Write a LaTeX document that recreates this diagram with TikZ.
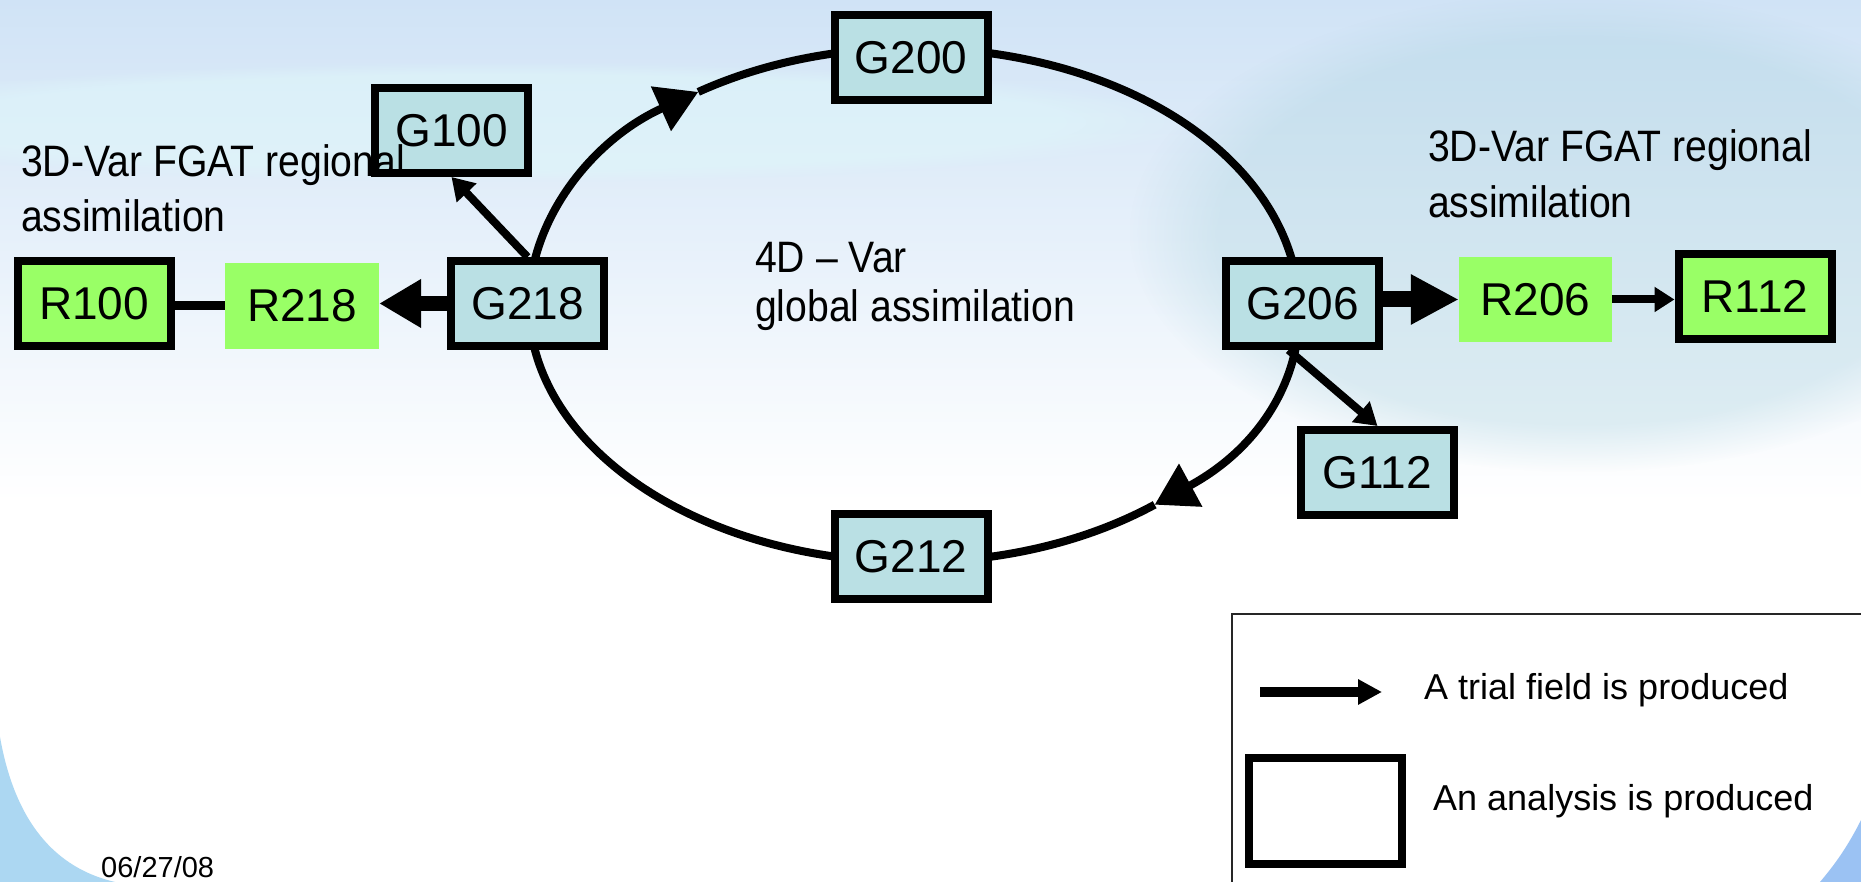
\documentclass[tikz,border=0pt]{standalone}
\usepackage{fontspec}
\setmainfont{Liberation Sans}
\newfontfamily\condfont[FakeStretch=0.89]{Liberation Sans}
\usetikzlibrary{arrows.meta,fadings}
\definecolor{gfill}{RGB}{186,224,228}
\definecolor{rfill}{RGB}{153,255,102}
\definecolor{bgtop}{RGB}{208,227,246}
\definecolor{bgteal}{RGB}{170,210,222}
\definecolor{bgcyan}{RGB}{222,246,250}
\definecolor{swoosh}{RGB}{172,215,242}
\newcommand\bxfont{\fontsize{46}{50}\selectfont}
\newcommand\lblfont{\condfont\fontsize{44}{50}\selectfont}
\newcommand\lgfont{\fontsize{36}{40}\selectfont}
\begin{document}
\begin{tikzpicture}[x=1pt,y=1pt,
  gbox/.style={draw=black, line width=8pt, fill=gfill, minimum width=153pt, minimum height=85pt, inner sep=0pt, font=\bxfont},
  rbox/.style={fill=rfill, minimum width=154pt, minimum height=86pt, inner sep=0pt, font=\bxfont},
  rabox/.style={rbox, draw=black, line width=8pt, minimum width=153pt, minimum height=85pt},
  lbl/.style={anchor=base west, inner sep=0pt, font=\lblfont},
  lgtext/.style={anchor=base west, inner sep=0pt, font=\lgfont},
  ring/.style={line width=8pt},
  ringtip/.style={line width=8pt, -{Triangle[length=41pt,width=47pt]}},
  thinarrow/.style={line width=8pt, -{Triangle[length=22pt,width=26pt]}},
  thickarrow/.style={line width=15pt, -{Triangle[length=42pt,width=46pt]}},
  plainline/.style={line width=9pt}
]
\useasboundingbox (0,0) rectangle (1861,882);
% ---------- background ----------
\begin{scope}
\clip (0,0) rectangle (1861,882);
\fill[white] (0,0) rectangle (1861,882);
\shade[top color=bgtop, bottom color=white] (0,380) rectangle (1861,882);
\fill[bgcyan, opacity=0.6, path fading=circle with fuzzy edge 20 percent] (500,760) ellipse [x radius=700, y radius=60];
\fill[bgteal, opacity=0.35, path fading=circle with fuzzy edge 20 percent] (1580,650) ellipse [x radius=450, y radius=240];
\fill[swoosh] (0,145) .. controls (15,60) and (55,14) .. (115,0) -- (0,0) -- cycle;
\fill[swoosh!90!blue] (1861,62) .. controls (1845,30) and (1830,12) .. (1820,0) -- (1861,0) -- cycle;
\draw[line width=2pt, black!85] (1232,268) rectangle (1900,-20);
\end{scope}
% ---------- ring ----------
\coordinate (ec) at (913,577);
\draw[ringtip] (ec) ++(180:384 and 257) arc[start angle=180, end angle=124, x radius=384, y radius=257];
\draw[ringtip] (ec) ++(124:384 and 257) arc[start angle=124, end angle=-51, x radius=384, y radius=257];
\draw[ring] (ec) ++(-51:384 and 257) arc[start angle=-51, end angle=-180, x radius=384, y radius=257];
% ---------- nodes ----------
\node[gbox] (G200) at (911,824.5) {G200};
\node[gbox] (G100) at (451.5,751.5) {G100};
\node[gbox] (G218) at (527.5,578.5) {G218};
\node[rabox] (R100) at (94,578.5) {R100};
\node[rbox] (R218) at (302,576) {R218};
\node[gbox] (G206) at (1302.5,578.5) {G206};
\node[rbox, minimum width=153pt, minimum height=85pt] (R206) at (1535.5,582.5) {R206};
\node[rabox] (R112) at (1755,585.5) {R112};
\node[gbox] (G112) at (1377.5,409.5) {G112};
\node[gbox] (G212) at (911,325.5) {G212};
% ---------- labels ----------
\node[lbl] (lt1) at (21,705) {3D-Var FGAT regional};
\node[lbl] (lt2) at (21,650) {assimilation};
\node[lbl] (rt1) at (1428,720) {3D-Var FGAT regional};
\node[lbl] (rt2) at (1428,664) {assimilation};
\node[lbl] (ct1) at (755,609) {4D – Var};
\node[lbl] (ct2) at (755,560) {global assimilation};
% ---------- connectors ----------
\draw[thinarrow] (G218.north) -- (G100.south);
\draw[thinarrow] ([xshift=-14pt]G206.south) -- (G112.north);
\draw[thickarrow] (G218.west) -- (G218.west -| R218.east);
\draw[thickarrow, line width=16pt, -{Triangle[length=48pt,width=47pt]}] (G206.east |- R206.west) -- (R206.west);
\draw[thinarrow, -{Triangle[length=20pt,width=24pt]}] (R206.east) -- (R206.east -| R112.west);
\draw[plainline] (R100.east |- R218.west) -- (R218.west);
% ---------- legend ----------
\coordinate (la1) at (1260,190);
\coordinate (la2) at (1382,190);
\draw[line width=10pt, -{Triangle[length=24pt,width=24pt]}] (la1) -- (la2);
\node[lgtext] (lg1) at (1424,182) {A trial field is produced};
\node[draw=black, line width=8pt, fill=white, minimum width=153pt, minimum height=106pt, inner sep=0pt] (lgbox) at (1325.5,71) {};
\node[lgtext] (lg2) at (1433,71) {An analysis is produced};
% ---------- date ----------
\node[anchor=base west, inner sep=0pt, font=\fontsize{29}{32}\selectfont] (date) at (101,4) {06/27/08};
\end{tikzpicture}
\end{document}
